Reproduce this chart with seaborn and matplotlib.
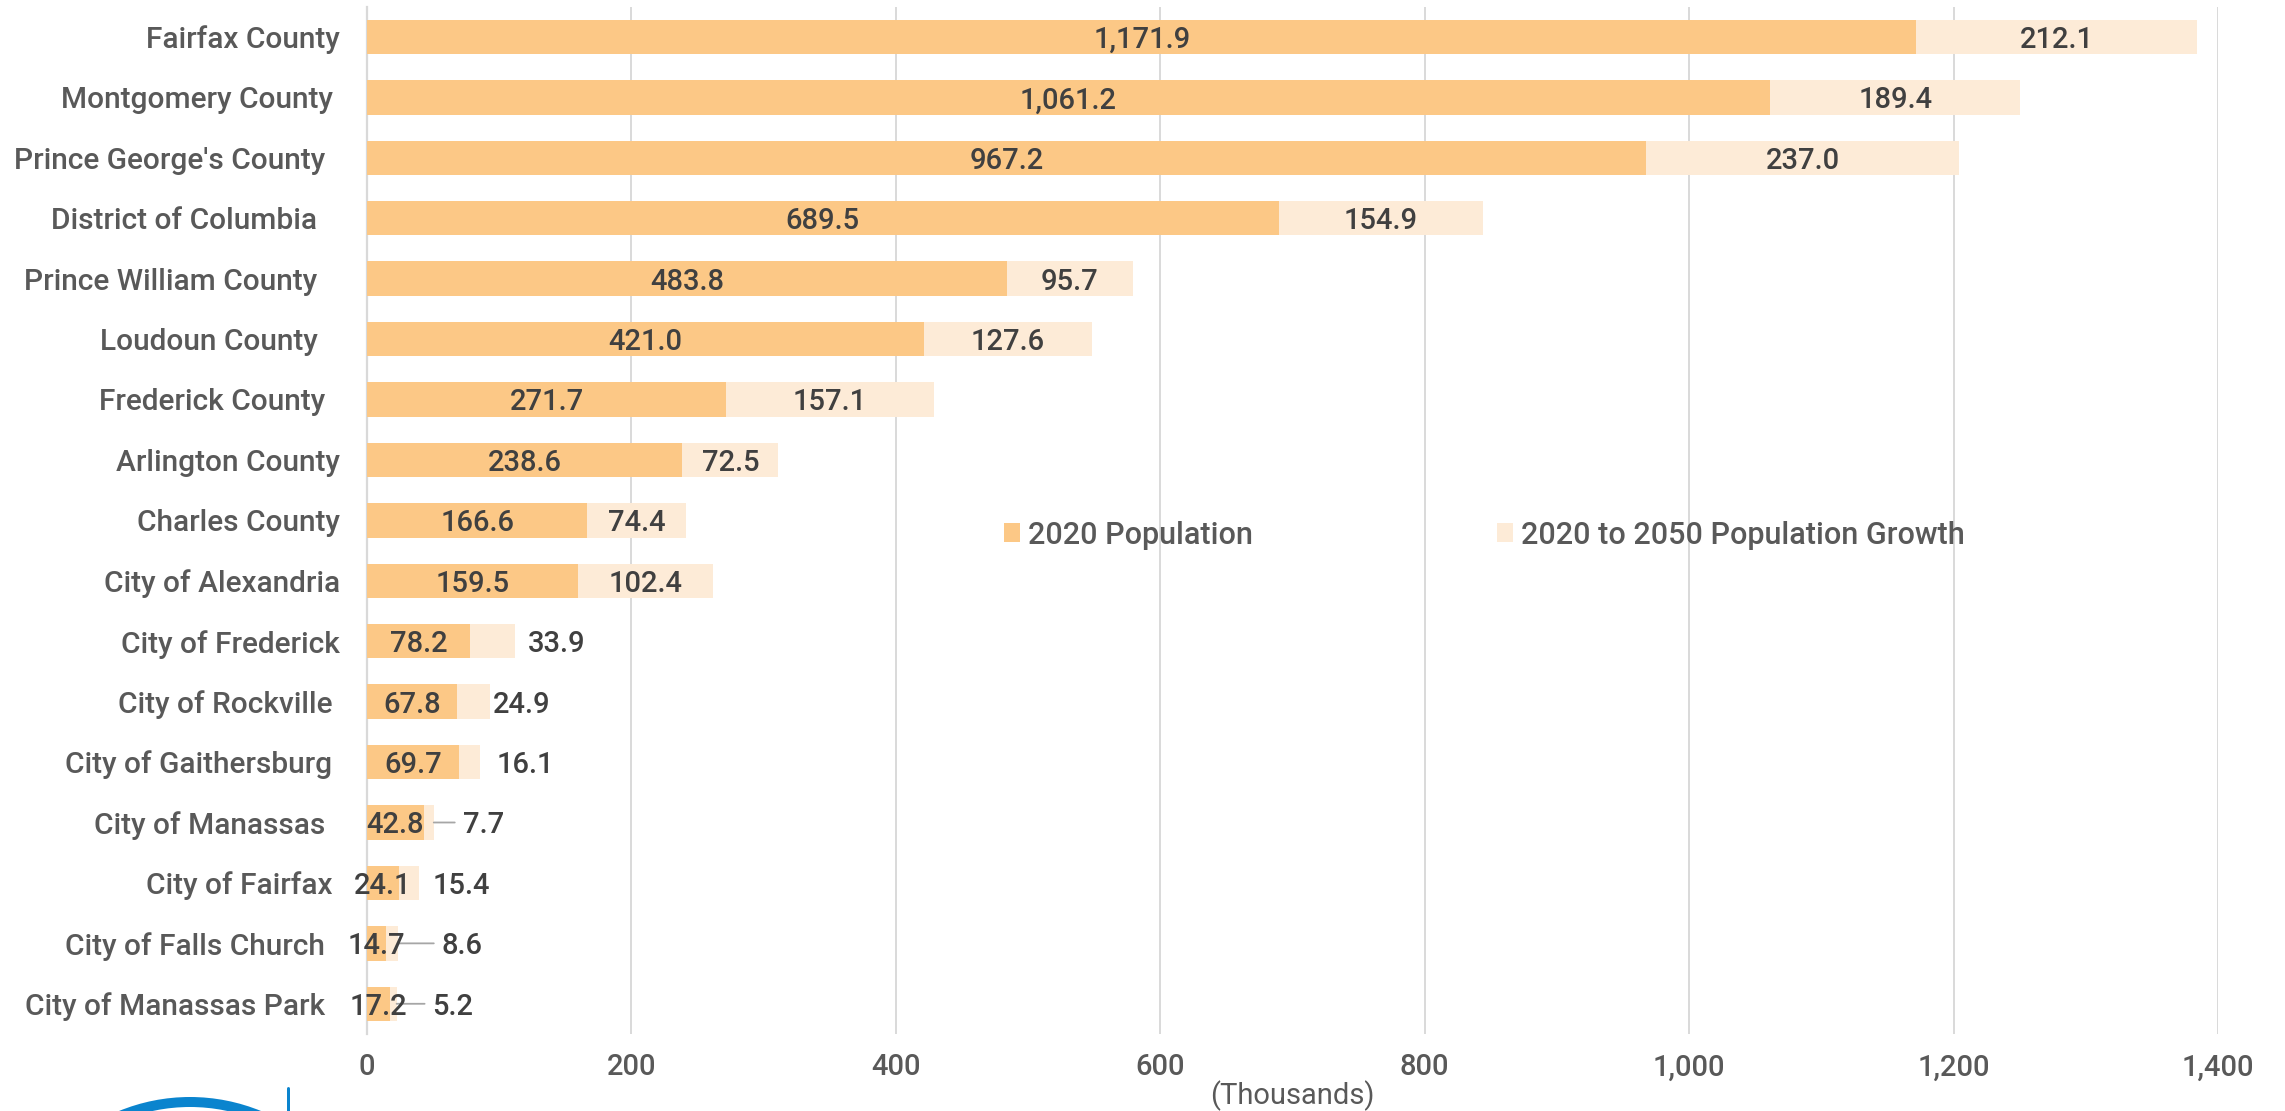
import matplotlib
matplotlib.use("Agg")
import matplotlib.pyplot as plt
import seaborn as sns
import pandas as pd
from matplotlib.patches import Patch, Arc

# ---------------- data ----------------
categories = [
    "Fairfax County", "Montgomery County ", "Prince George's County  ",
    "District of Columbia   ", "Prince William County   ", "Loudoun County   ",
    "Frederick County  ", "Arlington County", "Charles County",
    "City of Alexandria", "City of Frederick", "City of Rockville ",
    "City of Gaithersburg ", "City of Manassas  ", "City of Fairfax ",
    "City of Falls Church  ", "City of Manassas Park  ",
]
pop_2020 = [1171.9, 1061.2, 967.2, 689.5, 483.8, 421.0, 271.7, 238.6, 166.6,
            159.5, 78.2, 67.8, 69.7, 42.8, 24.1, 14.7, 17.2]
growth_2050 = [212.1, 189.4, 237.0, 154.9, 95.7, 127.6, 157.1, 72.5, 74.4,
               102.4, 33.9, 24.9, 16.1, 7.7, 15.4, 8.6, 5.2]
series_names = ["2020 Population", "2020 to 2050 Population Growth"]
x_ticks = [0, 200, 400, 600, 800, 1000, 1200, 1400]
x_tick_labels = ["0", "200", "400", "600", "800", "1,000", "1,200", "1,400"]
x_label = "(Thousands)"

# ---------------- style / layout ----------------
POP_COLOR = "#FCC886"
GROWTH_COLOR = "#FDEBD7"
GRID_COLOR = "#D9D9D9"
TEXT_GRAY = "#595959"
VALUE_COLOR = "#404040"
LEADER_COLOR = "#A6A6A6"
PX = 72 / 100  # points per pixel at dpi 100

# outside labels for small growth segments: index -> (label offset px from bar end, leader end px or None)
outside_growth = {10: (13, None), 11: (3.5, None), 12: (16.5, None),
                  13: (29, 21), 14: (13, None), 15: (44, 36), 16: (36, 28)}

sns.set_theme(style="white")
plt.rcParams["font.family"] = ["Roboto", "DejaVu Sans"]
plt.rcParams["font.weight"] = "medium"

W, H = 2285, 1111
fig = plt.figure(figsize=(W / 100, H / 100), dpi=100)
ax_left, ax_right, ax_top, ax_bottom = 367, 2218, 6.7, 1034
ax = fig.add_axes([ax_left / W, 1 - ax_bottom / H,
                   (ax_right - ax_left) / W, (ax_bottom - ax_top) / H])

df = pd.DataFrame({"category": categories, "pop": pop_2020, "growth": growth_2050})
df["total"] = df["pop"] + df["growth"]

sns.barplot(data=df, x="total", y="category", color=GROWTH_COLOR, saturation=1,
            width=0.57, edgecolor="none", linewidth=0, ax=ax, zorder=2)
sns.barplot(data=df, x="pop", y="category", color=POP_COLOR, saturation=1,
            width=0.57, edgecolor="none", linewidth=0, ax=ax, zorder=3)

ax.set_xlim(0, 1400)
ax.set_ylim(len(categories) - 0.5, -0.5)
ax.set_xticks(x_ticks)
ax.set_xticklabels(x_tick_labels)
ax.set_ylabel("")
ax.set_xlabel(x_label, fontsize=21, color=TEXT_GRAY)
ax.xaxis.set_label_coords(0.5, -(1096 - ax_bottom) / (ax_bottom - ax_top))
ax.xaxis.label.set_verticalalignment("center")

ax.set_axisbelow(True)
ax.grid(axis="x", color=GRID_COLOR, linewidth=1.4)
ax.grid(axis="y", visible=False)
for s in ["top", "right", "bottom"]:
    ax.spines[s].set_visible(False)
ax.spines["left"].set_color(GRID_COLOR)
ax.spines["left"].set_linewidth(1.6)
ax.tick_params(axis="x", length=0, pad=14, labelsize=21, labelcolor=TEXT_GRAY)
ax.tick_params(axis="y", length=0, pad=19.5, labelsize=21.5, labelcolor=TEXT_GRAY)

# value labels
for i, (p, g) in enumerate(zip(pop_2020, growth_2050)):
    ax.text(p / 2, i, f"{p:,.1f}", ha="center", va="center_baseline",
            fontsize=21, color=VALUE_COLOR, zorder=5)
    total = p + g
    if i in outside_growth:
        off, lead = outside_growth[i]
        ax.annotate(f"{g:,.1f}", xy=(total, i), xytext=(off * PX, 0),
                    textcoords="offset points", ha="left", va="center_baseline",
                    fontsize=21, color=VALUE_COLOR, zorder=5)
        if lead is not None:
            ax.annotate("", xy=(total, i), xytext=(lead * PX, 0),
                        textcoords="offset points",
                        arrowprops=dict(arrowstyle="-", color=LEADER_COLOR, lw=1.3,
                                        shrinkA=0, shrinkB=0), zorder=4)
    else:
        ax.text(p + g / 2, i, f"{g:,.1f}", ha="center", va="center_baseline",
                fontsize=21, color=VALUE_COLOR, zorder=5)

# legend
handles = [Patch(facecolor=POP_COLOR, edgecolor="none"),
           Patch(facecolor=GROWTH_COLOR, edgecolor="none")]
fig.legend(handles, series_names, loc="center left",
           bbox_to_anchor=(1004 / W, 1 - 535 / H), ncol=2, frameon=False,
           fontsize=22, handlelength=0.52, handleheight=0.55, handletextpad=0.26,
           columnspacing=8.0, borderpad=0, borderaxespad=0, labelcolor=TEXT_GRAY)

# logo fragment (bottom-left)
lax = fig.add_axes([0, 0, 1, 1], zorder=-1)
lax.set_xlim(0, W)
lax.set_ylim(H, 0)
lax.axis("off")
lax.add_patch(Arc((190, 1284), 2 * 182, 2 * 182, color="#0A84CE", lw=10 * PX))
lax.plot([288, 288], [1088, 1111], color="#0A84CE", lw=3 * PX)

fig.savefig("out.png", dpi=100)
